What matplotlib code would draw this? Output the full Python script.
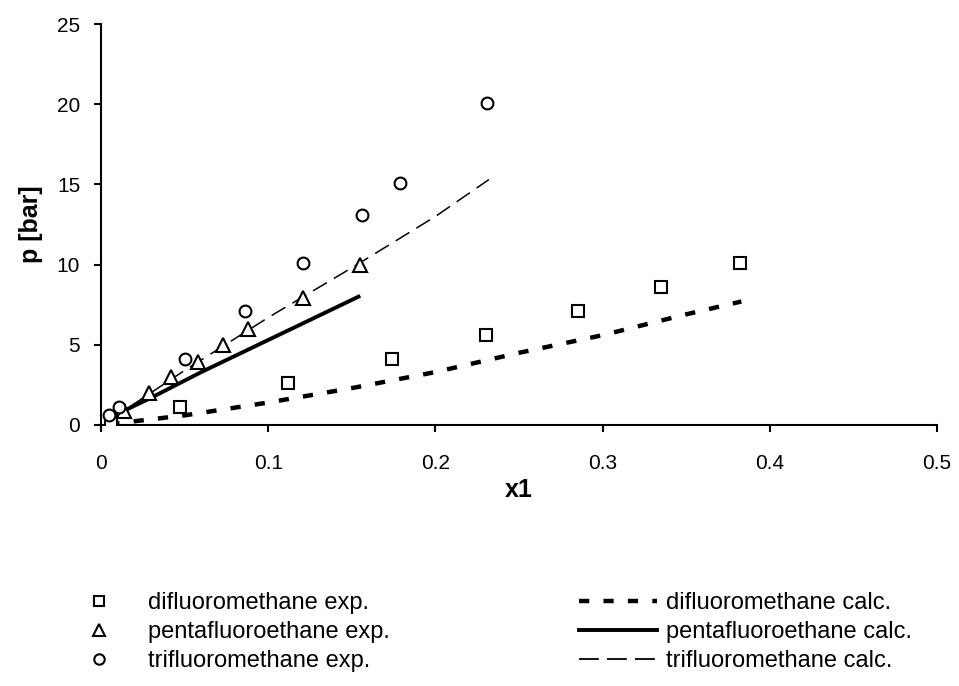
import matplotlib
matplotlib.use("Agg")
from matplotlib import pyplot as plt
from matplotlib.lines import Line2D

plt.rcParams['font.family'] = ['Liberation Sans', 'DejaVu Sans']

# experimental points
x_di_exp = [0.006, 0.047, 0.112, 0.174, 0.230, 0.285, 0.335, 0.382]
p_di_exp = [0.2, 1.1, 2.6, 4.1, 5.6, 7.1, 8.6, 10.1]

x_penta_exp = [0.014, 0.029, 0.042, 0.058, 0.073, 0.088, 0.121, 0.155]
p_penta_exp = [0.9, 2.0, 3.0, 3.9, 5.0, 6.0, 7.9, 10.0]

x_tri_exp = [0.005, 0.011, 0.050, 0.086, 0.121, 0.156, 0.179, 0.231]
p_tri_exp = [0.6, 1.1, 4.1, 7.1, 10.1, 13.1, 15.1, 20.1]

# calculated curves
x_di_calc = [0.005, 0.05, 0.1, 0.15, 0.2, 0.25, 0.3, 0.35, 0.383]
p_di_calc = [0.05, 0.6, 1.4, 2.3, 3.3, 4.5, 5.6, 6.9, 7.7]

x_penta_calc = [0.008, 0.03, 0.06, 0.09, 0.12, 0.154]
p_penta_calc = [0.6, 1.7, 3.3, 4.8, 6.3, 8.0]

x_tri_calc = [0.005, 0.05, 0.1, 0.15, 0.2, 0.232]
p_tri_calc = [0.3, 3.4, 6.7, 9.8, 13.0, 15.3]

x_ticks = [0, 0.1, 0.2, 0.3, 0.4, 0.5]
x_ticklabels = ['0', '0.1', '0.2', '0.3', '0.4', '0.5']
y_ticks = [0, 5, 10, 15, 20, 25]

fig = plt.figure(figsize=(9.59, 6.86), dpi=100)
ax = fig.add_axes([101/959, 1 - 425/686, (937-101)/959, (425-24)/686])

mk = dict(linestyle='none', markerfacecolor='white', markeredgecolor='black',
          markeredgewidth=1.5, color='black')
dot_dash = (2.3, 3.2)
tri_dash = (10.5, 5.3)
ax.plot(x_di_calc, p_di_calc, color='black', lw=3.2, dashes=dot_dash, zorder=2)
ax.plot(x_penta_calc, p_penta_calc, color='black', lw=2.8, zorder=2)
ax.plot(x_tri_calc, p_tri_calc, color='black', lw=1.1, dashes=tri_dash, zorder=2)
ax.plot(x_di_exp, p_di_exp, marker='s', markersize=8.5, zorder=3, **mk)
ax.plot(x_penta_exp, p_penta_exp, marker='^', markersize=10, zorder=3, **mk)
ax.plot(x_tri_exp, p_tri_exp, marker='o', markersize=8.5, zorder=3, **mk)

ax.set_xlim(0, 0.5)
ax.set_ylim(0, 25)
ax.set_xticks(x_ticks)
ax.set_xticklabels(x_ticklabels)
ax.set_yticks(y_ticks)
for s in ['top', 'right']:
    ax.spines[s].set_visible(False)
for s in ['left', 'bottom']:
    ax.spines[s].set_linewidth(1.5)
ax.tick_params(direction='out', length=5, width=1.5, labelsize=15)
ax.tick_params(axis='x', pad=16)
ax.tick_params(axis='y', pad=10)
ax.set_xlabel('x1', fontsize=18, fontweight='bold', va='top')
ax.set_ylabel('p [bar]', fontsize=18, fontweight='bold')
ax.xaxis.set_label_coords(0.5, (425 - 478) / 401)
ax.yaxis.set_label_coords((43 - 101) / 836, 0.5)

# legends
exp_handles = [
    Line2D([], [], marker='s', markersize=7.5, **mk),
    Line2D([], [], marker='^', markersize=8.5, **mk),
    Line2D([], [], marker='o', markersize=7.5, **mk),
]
exp_labels = ['difluoromethane exp.', 'pentafluoroethane exp.', 'trifluoromethane exp.']
calc_handles = [
    Line2D([], [], color='black', lw=3.2, dashes=dot_dash),
    Line2D([], [], color='black', lw=2.8),
    Line2D([], [], color='black', lw=1.3, dashes=(11, 4.5)),
]
calc_labels = ['difluoromethane calc.', 'pentafluoroethane calc.', 'trifluoromethane calc.']

fs = 17
leg1 = fig.legend(exp_handles, exp_labels, loc='upper left',
                  bbox_to_anchor=(85/959, 1 - 592/686), frameon=False,
                  fontsize=fs, handlelength=1.2, handletextpad=1.45,
                  labelspacing=0.3, borderpad=0, borderaxespad=0)
leg2 = fig.legend(calc_handles, calc_labels, loc='upper left',
                  bbox_to_anchor=(579/959, 1 - 592/686), frameon=False,
                  fontsize=fs, handlelength=3.3, handletextpad=0.4,
                  labelspacing=0.3, borderpad=0, borderaxespad=0)

fig.savefig('out.png', dpi=100)
